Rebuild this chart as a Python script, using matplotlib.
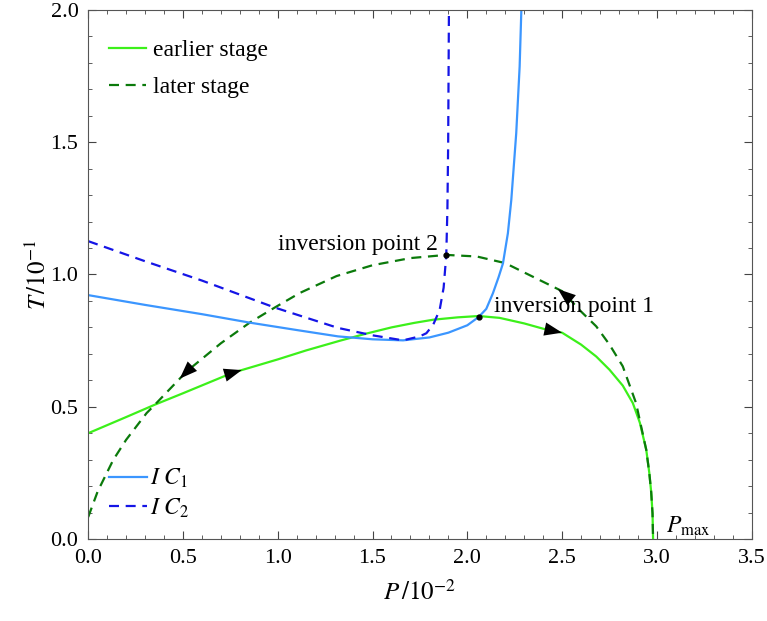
import numpy as np
import matplotlib
matplotlib.use("Agg")
from matplotlib import pyplot as plt

plt.rcParams['font.family'] = ['Liberation Serif', 'DejaVu Serif']
plt.rcParams['mathtext.fontset'] = 'stix'

# earlier stage (solid green)
p_early = [0.0, 0.2, 0.352, 0.5, 0.76, 1.0, 1.15, 1.33, 1.47, 1.6, 1.72, 1.82, 1.95, 2.06, 2.17, 2.3,
           2.4, 2.5, 2.6, 2.68, 2.75, 2.82, 2.873, 2.91, 2.944, 2.96, 2.97, 2.977, 2.98]
t_early = [0.40, 0.461, 0.508, 0.551, 0.628, 0.679, 0.713, 0.75, 0.777, 0.80, 0.817, 0.829, 0.838,
           0.843, 0.836, 0.815, 0.795, 0.78, 0.735, 0.69, 0.64, 0.58, 0.514, 0.44, 0.337, 0.25,
           0.177, 0.097, 0.0]

# later stage (dashed green)
p_late = [0.0, 0.05, 0.132, 0.2, 0.308, 0.352, 0.52, 0.7, 0.852, 0.984, 1.116, 1.31, 1.5, 1.7,
          1.889, 2.05, 2.2, 2.35, 2.5, 2.6, 2.68, 2.75, 2.82, 2.89, 2.944, 2.96, 2.97, 2.977, 2.98]
t_late = [0.083, 0.18, 0.299, 0.375, 0.476, 0.508, 0.634, 0.74, 0.818, 0.875, 0.93, 0.994, 1.035,
          1.062, 1.074, 1.068, 1.043, 0.99, 0.937, 0.86, 0.804, 0.735, 0.653, 0.514, 0.337, 0.25,
          0.177, 0.097, 0.0]

# inversion curves
p_ic1 = [0.0, 0.3, 0.6, 0.852, 1.1, 1.318, 1.5, 1.661, 1.8, 1.9, 2.0, 2.061, 2.1, 2.135, 2.165,
         2.188, 2.214, 2.232, 2.258, 2.276, 2.285]
t_ic1 = [0.922, 0.885, 0.85, 0.818, 0.79, 0.766, 0.755, 0.751, 0.762, 0.78, 0.808, 0.840, 0.87,
         0.929, 0.99, 1.042, 1.156, 1.282, 1.534, 1.786, 2.0]

p_ic2 = [0.0, 0.3, 0.6, 0.984, 1.318, 1.5, 1.661, 1.749, 1.784, 1.82, 1.854, 1.875, 1.889, 1.895,
         1.899, 1.901, 1.903]
t_ic2 = [1.126, 1.05, 0.977, 0.875, 0.798, 0.77, 0.751, 0.766, 0.778, 0.81, 0.866, 0.95, 1.074,
         1.25, 1.5, 1.75, 2.0]

inv_p = [2.061, 1.889]
inv_t = [0.840, 1.074]
inv_labels = ['inversion point 1', 'inversion point 2']

# arrow tips along P (earlier stage runs right, later stage runs left)
arrows_early = [0.81, 2.50]
arrows_late = [0.483, 2.478]

c_early = '#3cf01a'
c_late = '#0b7a0b'
c_ic1 = '#3b96ff'
c_ic2 = '#1515e6'

fig = plt.figure(figsize=(7.67, 6.21), dpi=100)
ax = fig.add_axes([0.115, 0.132, 0.865, 0.852])

l1, = ax.plot(p_early, t_early, color=c_early, lw=1.6, label='earlier stage')
l2, = ax.plot(p_late, t_late, color=c_late, lw=1.6, dashes=(4.5, 3), label='later stage')
l3, = ax.plot(p_ic1, t_ic1, color=c_ic1, lw=1.6, label='$I\\ C_1$')
l4, = ax.plot(p_ic2, t_ic2, color=c_ic2, lw=1.6, dashes=(4.5, 3), label='$I\\ C_2$')

ax.plot(inv_p, inv_t, 'o', color='k', ms=3.5, zorder=5)
ax.annotate(inv_labels[0], (inv_p[0], inv_t[0]), xytext=(11, 0), textcoords='offset points',
            fontsize=17, ha='left', va='bottom')
ax.annotate(inv_labels[1], (inv_p[1], inv_t[1]), xytext=(-6, 0), textcoords='offset points',
            fontsize=17, ha='right', va='bottom')


def add_arrow(px, pt, p_tip, sign):
    p_tail = p_tip - sign * 0.05
    xy = (p_tip, np.interp(p_tip, px, pt))
    xyt = (p_tail, np.interp(p_tail, px, pt))
    ax.annotate('', xy=xy, xytext=xyt,
                arrowprops=dict(arrowstyle='-|>,head_length=0.85,head_width=0.32', color='k',
                                lw=0, mutation_scale=15, shrinkA=0, shrinkB=0), zorder=6)


for p in arrows_early:
    add_arrow(p_early, t_early, p, 1)
for p in arrows_late:
    add_arrow(p_late, t_late, p, -1)

ax.text(3.05, 0.004, '$P_{\\mathrm{max}}$', fontsize=17, ha='left', va='bottom')

ax.set_xlim(0, 3.5)
ax.set_ylim(0, 2.0)
ax.set_xticks(np.arange(0, 3.51, 0.5))
ax.set_yticks(np.arange(0, 2.01, 0.5))
ax.set_xticks(np.arange(0, 3.51, 0.1), minor=True)
ax.set_yticks(np.arange(0, 2.01, 0.1), minor=True)
ax.tick_params(which='both', direction='in', top=True, right=True, labelsize=16, colors='#444444',
               labelcolor='black', pad=7)
ax.tick_params(which='major', length=6)
ax.tick_params(which='minor', length=3)
for s in ax.spines.values():
    s.set_color('#555555')

ax.set_xlabel('$P\\,/10^{-2}$', fontsize=18, labelpad=9)
ax.set_ylabel('$T\\,/10^{-1}$', fontsize=18, labelpad=0)

leg1 = ax.legend(handles=[l1, l2], loc='upper left', frameon=False, fontsize=17,
                 handlelength=1.55, handletextpad=0.3, labelspacing=0.67, borderpad=0,
                 borderaxespad=0, bbox_to_anchor=(0.032, 0.944))
ax.add_artist(leg1)
ax.legend(handles=[l3, l4], loc='lower left', frameon=False, fontsize=17,
          handlelength=1.6, handletextpad=0.1, labelspacing=0.28, borderpad=0,
          borderaxespad=0, bbox_to_anchor=(0.032, 0.036))

fig.savefig('out.png', dpi=100)
